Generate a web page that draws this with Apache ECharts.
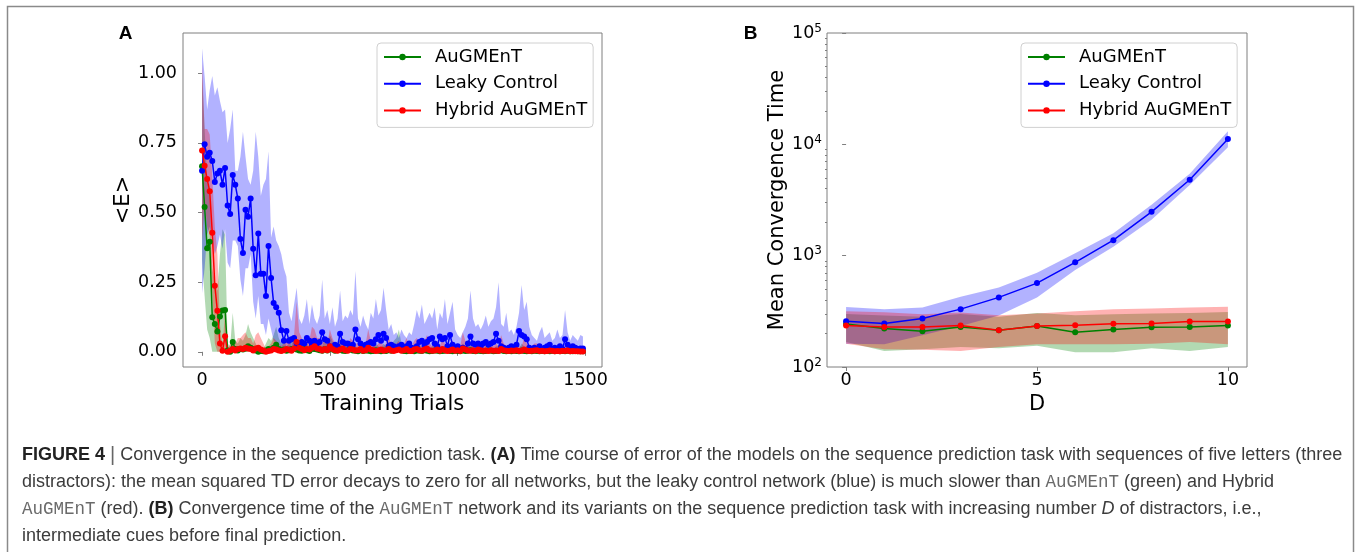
<!DOCTYPE html>
<html style="height: 100%">
<head>
    <meta charset="utf-8">
    <title>Figure 4</title>
    <script src="https://cdn.jsdelivr.net/npm/echarts@6/dist/echarts.min.js"></script>
</head>
<body style="height: 100%; margin: 0; background: #fff">
<div id="main" style="width: 1357px; height: 552px"></div>
<script type="text/javascript">

    // ---- panel A : error over training trials ----
    var trials = [
        0, 10, 20, 30, 40, 50, 60, 70, 80, 90, 100, 110, 120, 130, 140, 150, 160, 170, 180, 190,
        200, 210, 220, 230, 240, 250, 260, 270, 280, 290, 300, 310, 320, 330, 340, 350, 360, 370, 380, 390,
        400, 410, 420, 430, 440, 450, 460, 470, 480, 490, 500, 510, 520, 530, 540, 550, 560, 570, 580, 590,
        600, 610, 620, 630, 640, 650, 660, 670, 680, 690, 700, 710, 720, 730, 740, 750, 760, 770, 780, 790,
        800, 810, 820, 830, 840, 850, 860, 870, 880, 890, 900, 910, 920, 930, 940, 950, 960, 970, 980, 990,
        1000, 1010, 1020, 1030, 1040, 1050, 1060, 1070, 1080, 1090, 1100, 1110, 1120, 1130, 1140, 1150, 1160, 1170, 1180, 1190,
        1200, 1210, 1220, 1230, 1240, 1250, 1260, 1270, 1280, 1290, 1300, 1310, 1320, 1330, 1340, 1350, 1360, 1370, 1380, 1390,
        1400, 1410, 1420, 1430, 1440, 1450, 1460, 1470, 1480, 1490
    ];

    var leakyErr = [
        0.65, 0.745, 0.70, 0.715, 0.685, 0.61, 0.64, 0.65, 0.60, 0.66,
        0.525, 0.495, 0.635, 0.60, 0.55, 0.405, 0.355, 0.51, 0.485, 0.55,
        0.37, 0.275, 0.425, 0.28, 0.28, 0.20, 0.38, 0.265, 0.175, 0.16,
        0.14, 0.077, 0.04, 0.075, 0.04, 0.045, 0.05, 0.03, 0.02, 0.035,
        0.03, 0.05, 0.04, 0.025, 0.04, 0.03, 0.035, 0.07, 0.045, 0.04,
        0.02, 0.015, 0.025, 0.02, 0.065, 0.035, 0.03, 0.03, 0.02, 0.025,
        0.08, 0.045, 0.03, 0.02, 0.025, 0.03, 0.035, 0.03, 0.045, 0.06,
        0.04, 0.065, 0.05, 0.02, 0.025, 0.02, 0.015, 0.02, 0.025, 0.01,
        0.02, 0.03, 0.015, 0.01, 0.02, 0.035, 0.04, 0.025, 0.035, 0.045,
        0.05, 0.03, 0.02, 0.055, 0.045, 0.05, 0.02, 0.06, 0.025, 0.015,
        0.02, 0.01, 0.015, 0.01, 0.03, 0.055, 0.03, 0.025, 0.03, 0.02,
        0.03, 0.035, 0.025, 0.03, 0.035, 0.065, 0.04, 0.02, 0.015, 0.01,
        0.015, 0.02, 0.015, 0.025, 0.075, 0.06, 0.055, 0.045, 0.015, 0.01,
        0.015, 0.01, 0.02, 0.01, 0.015, 0.02, 0.025, 0.01, 0.015, 0.01,
        0.02, 0.01, 0.045, 0.025, 0.01, 0.02, 0.015, 0.01, 0.012, 0.012
    ];
    var leakyHi = [
        1.09, 0.99, 0.87, 0.94, 0.99, 0.92, 0.95, 0.90, 0.86, 0.87,
        0.75, 0.80, 0.87, 0.65, 0.65, 0.70, 0.79, 0.70, 0.62, 0.60,
        0.65, 0.79, 0.70, 0.56, 0.60, 0.62, 0.72, 0.41, 0.45, 0.40,
        0.38, 0.35, 0.30, 0.27, 0.14, 0.11, 0.17, 0.23, 0.12, 0.10,
        0.13, 0.19, 0.10, 0.17, 0.12, 0.10, 0.13, 0.26, 0.12, 0.15,
        0.10, 0.16, 0.09, 0.12, 0.22, 0.11, 0.13, 0.12, 0.15, 0.13,
        0.29, 0.12, 0.09, 0.13, 0.10, 0.08, 0.14, 0.12, 0.19, 0.13,
        0.15, 0.23, 0.15, 0.08, 0.10, 0.06, 0.07, 0.05, 0.08, 0.06,
        0.05, 0.07, 0.06, 0.10, 0.15, 0.12, 0.17, 0.10, 0.12, 0.14,
        0.12, 0.16, 0.08, 0.14, 0.12, 0.19, 0.10, 0.14, 0.18, 0.08,
        0.06, 0.05, 0.07, 0.09, 0.12, 0.22, 0.12, 0.09, 0.10, 0.08,
        0.10, 0.13, 0.09, 0.11, 0.12, 0.16, 0.25, 0.10, 0.09, 0.14,
        0.07, 0.08, 0.06, 0.09, 0.14, 0.24, 0.15, 0.18, 0.09, 0.06,
        0.05, 0.04, 0.07, 0.09, 0.05, 0.06, 0.07, 0.04, 0.05, 0.08,
        0.05, 0.06, 0.15, 0.07, 0.04, 0.06, 0.05, 0.04, 0.06, 0.055
    ];
    var leakyLo = [
        0.21, 0.30, 0.42, 0.45, 0.40, 0.35, 0.38, 0.42, 0.37, 0.44,
        0.32, 0.30, 0.40, 0.40, 0.38, 0.26, 0.20, 0.30, 0.30, 0.35,
        0.18, 0.12, 0.20, 0.10, 0.10, 0.06, 0.12, 0.08, 0.04, 0.03,
        0.03, 0, 0, 0, 0, 0, 0, 0, 0, 0,
        0, 0, 0, 0, 0, 0, 0, 0, 0, 0,
        0, 0, 0, 0, 0, 0, 0, 0, 0, 0,
        0, 0, 0, 0, 0, 0, 0, 0, 0, 0,
        0, 0, 0, 0, 0, 0, 0, 0, 0, 0,
        0, 0, 0, 0, 0, 0, 0, 0, 0, 0,
        0, 0, 0, 0, 0, 0, 0, 0, 0, 0,
        0, 0, 0, 0, 0, 0, 0, 0, 0, 0,
        0, 0, 0, 0, 0, 0, 0, 0, 0, 0,
        0, 0, 0, 0, 0, 0, 0, 0, 0, 0,
        0, 0, 0, 0, 0, 0, 0, 0, 0, 0,
        0, 0, 0, 0, 0, 0, 0, 0, 0, 0
    ];

    var augErr = [
        0.666, 0.52, 0.372, 0.395, 0.124, 0.10, 0.073, 0.127, 0.148, 0.15,
        0.005, 0.0, 0.035, 0.01, 0.005, 0.01, 0.008, 0.012, 0.02, 0.015,
        0.01, 0.005, 0.0, 0.003, 0.002, 0.005, 0.01, 0.008, 0.015, 0.025,
        0.01, 0.005, 0.008, 0.004, 0.006, 0.01, 0.012, 0.008, 0.005, 0.004,
        0.01, 0.006, 0.003, 0.012, 0.01, 0.008, 0.006, 0.004, 0.01, 0.005,
        0.012, 0.008, 0.004, 0.006, 0.01, 0.004, 0.003, 0.006, 0.008, 0.005,
        0.004, 0.002, 0.006, 0.003, 0.005, 0.004, 0.002, 0.003, 0.006, 0.004,
        0.002, 0.005, 0.003, 0.006, 0.004, 0.008, 0.01, 0.015, 0.006, 0.003,
        0.002, 0.004, 0.003, 0.002, 0.005, 0.004, 0.003, 0.006, 0.004, 0.002,
        0.003, 0.005, 0.004, 0.002, 0.003, 0.004, 0.006, 0.003, 0.002, 0.004,
        0.003, 0.002, 0.005, 0.003, 0.004, 0.006, 0.003, 0.002, 0.004, 0.003,
        0.002, 0.003, 0.005, 0.004, 0.002, 0.003, 0.004, 0.006, 0.003, 0.002,
        0.003, 0.002, 0.004, 0.003, 0.002, 0.005, 0.003, 0.002, 0.003, 0.002,
        0.004, 0.003, 0.002, 0.003, 0.002, 0.003, 0.002, 0.004, 0.002, 0.003,
        0.002, 0.003, 0.002, 0.004, 0.002, 0.002, 0.003, 0.002, 0.002, 0.002
    ];
    var augHi = [
        1.0, 0.80, 0.62, 0.55, 0.30, 0.25, 0.22, 0.35, 0.44, 0.42,
        0.03, 0.02, 0.14, 0.04, 0.03, 0.05, 0.04, 0.06, 0.10, 0.07,
        0.05, 0.03, 0.01, 0.02, 0.01, 0.03, 0.05, 0.04, 0.06, 0.09,
        0.05, 0.03, 0.04, 0.02, 0.03, 0.05, 0.06, 0.04, 0.03, 0.02,
        0.05, 0.03, 0.02, 0.05, 0.05, 0.04, 0.03, 0.02, 0.05, 0.03,
        0.06, 0.04, 0.02, 0.03, 0.05, 0.02, 0.02, 0.03, 0.04, 0.03,
        0.02, 0.01, 0.03, 0.02, 0.03, 0.02, 0.01, 0.02, 0.03, 0.02,
        0.01, 0.03, 0.02, 0.03, 0.02, 0.04, 0.05, 0.08, 0.03, 0.02,
        0.01, 0.02, 0.02, 0.01, 0.03, 0.02, 0.02, 0.03, 0.02, 0.01,
        0.02, 0.03, 0.02, 0.01, 0.02, 0.02, 0.03, 0.02, 0.01, 0.02,
        0.02, 0.01, 0.03, 0.02, 0.02, 0.03, 0.02, 0.01, 0.02, 0.02,
        0.01, 0.02, 0.03, 0.02, 0.01, 0.02, 0.02, 0.03, 0.02, 0.01,
        0.02, 0.01, 0.02, 0.02, 0.01, 0.03, 0.02, 0.01, 0.02, 0.01,
        0.02, 0.02, 0.01, 0.02, 0.01, 0.02, 0.01, 0.02, 0.01, 0.02,
        0.01, 0.02, 0.01, 0.02, 0.01, 0.01, 0.02, 0.01, 0.01, 0.01
    ];
    var augLo = [
        0.33, 0.20, 0.08, 0.05, 0, 0, 0, 0, 0, 0,
        0, 0, 0, 0, 0, 0, 0, 0, 0, 0,
        0, 0, 0, 0, 0, 0, 0, 0, 0, 0,
        0, 0, 0, 0, 0, 0, 0, 0, 0, 0,
        0, 0, 0, 0, 0, 0, 0, 0, 0, 0,
        0, 0, 0, 0, 0, 0, 0, 0, 0, 0,
        0, 0, 0, 0, 0, 0, 0, 0, 0, 0,
        0, 0, 0, 0, 0, 0, 0, 0, 0, 0,
        0, 0, 0, 0, 0, 0, 0, 0, 0, 0,
        0, 0, 0, 0, 0, 0, 0, 0, 0, 0,
        0, 0, 0, 0, 0, 0, 0, 0, 0, 0,
        0, 0, 0, 0, 0, 0, 0, 0, 0, 0,
        0, 0, 0, 0, 0, 0, 0, 0, 0, 0,
        0, 0, 0, 0, 0, 0, 0, 0, 0, 0,
        0, 0, 0, 0, 0, 0, 0, 0, 0, 0
    ];

    var hybErr = [
        0.723, 0.668, 0.62, 0.576, 0.427, 0.237, 0.147, 0.03, 0.004, 0.056,
        0.0, 0.005, 0.01, 0.005, 0.01, 0.012, 0.01, 0.015, 0.012, 0.01,
        0.005, 0.012, 0.015, 0.008, 0.005, 0.0, 0.003, 0.005, 0.01, 0.008,
        0.005, 0.003, 0.006, 0.01, 0.008, 0.004, 0.012, 0.035, 0.015, 0.01,
        0.006, 0.01, 0.008, 0.015, 0.02, 0.012, 0.01, 0.005, 0.01, 0.006,
        0.02, 0.01, 0.006, 0.004, 0.008, 0.012, 0.006, 0.004, 0.01, 0.008,
        0.005, 0.006, 0.01, 0.004, 0.006, 0.015, 0.008, 0.006, 0.003, 0.005,
        0.008, 0.004, 0.006, 0.01, 0.005, 0.003, 0.006, 0.008, 0.004, 0.006,
        0.01, 0.004, 0.003, 0.008, 0.01, 0.006, 0.004, 0.008, 0.012, 0.006,
        0.004, 0.005, 0.008, 0.004, 0.01, 0.006, 0.003, 0.005, 0.008, 0.004,
        0.006, 0.003, 0.012, 0.008, 0.005, 0.004, 0.006, 0.003, 0.008, 0.006,
        0.004, 0.005, 0.003, 0.006, 0.004, 0.005, 0.003, 0.01, 0.006, 0.004,
        0.003, 0.005, 0.004, 0.006, 0.003, 0.004, 0.008, 0.005, 0.003, 0.004,
        0.005, 0.006, 0.003, 0.004, 0.002, 0.003, 0.005, 0.004, 0.002, 0.003,
        0.002, 0.004, 0.003, 0.005, 0.002, 0.003, 0.002, 0.002, 0.001, 0.001
    ];
    var hybHi = [
        1.04, 0.80, 0.80, 0.78, 0.63, 0.45, 0.35, 0.10, 0.02, 0.14,
        0.01, 0.03, 0.04, 0.03, 0.05, 0.05, 0.06, 0.07, 0.05, 0.05,
        0.03, 0.06, 0.07, 0.05, 0.03, 0.01, 0.02, 0.03, 0.05, 0.04,
        0.03, 0.02, 0.03, 0.05, 0.04, 0.02, 0.06, 0.18, 0.07, 0.05,
        0.03, 0.05, 0.04, 0.09, 0.08, 0.05, 0.05, 0.03, 0.05, 0.03,
        0.08, 0.05, 0.03, 0.02, 0.04, 0.05, 0.03, 0.02, 0.05, 0.04,
        0.03, 0.03, 0.05, 0.02, 0.03, 0.08, 0.04, 0.03, 0.02, 0.03,
        0.04, 0.02, 0.03, 0.05, 0.03, 0.02, 0.03, 0.04, 0.02, 0.03,
        0.05, 0.02, 0.02, 0.04, 0.05, 0.03, 0.02, 0.04, 0.06, 0.03,
        0.02, 0.03, 0.04, 0.02, 0.05, 0.03, 0.02, 0.03, 0.04, 0.02,
        0.03, 0.02, 0.07, 0.04, 0.03, 0.02, 0.03, 0.02, 0.04, 0.03,
        0.02, 0.03, 0.02, 0.03, 0.02, 0.03, 0.02, 0.06, 0.03, 0.02,
        0.02, 0.03, 0.02, 0.03, 0.02, 0.02, 0.05, 0.03, 0.02, 0.02,
        0.03, 0.03, 0.02, 0.02, 0.01, 0.02, 0.03, 0.02, 0.01, 0.02,
        0.01, 0.02, 0.02, 0.03, 0.01, 0.02, 0.01, 0.01, 0.005, 0.005
    ];
    var hybLo = [
        0.40, 0.54, 0.45, 0.42, 0.22, 0.03, 0, 0, 0, 0,
        0, 0, 0, 0, 0, 0, 0, 0, 0, 0,
        0, 0, 0, 0, 0, 0, 0, 0, 0, 0,
        0, 0, 0, 0, 0, 0, 0, 0, 0, 0,
        0, 0, 0, 0, 0, 0, 0, 0, 0, 0,
        0, 0, 0, 0, 0, 0, 0, 0, 0, 0,
        0, 0, 0, 0, 0, 0, 0, 0, 0, 0,
        0, 0, 0, 0, 0, 0, 0, 0, 0, 0,
        0, 0, 0, 0, 0, 0, 0, 0, 0, 0,
        0, 0, 0, 0, 0, 0, 0, 0, 0, 0,
        0, 0, 0, 0, 0, 0, 0, 0, 0, 0,
        0, 0, 0, 0, 0, 0, 0, 0, 0, 0,
        0, 0, 0, 0, 0, 0, 0, 0, 0, 0,
        0, 0, 0, 0, 0, 0, 0, 0, 0, 0,
        0, 0, 0, 0, 0, 0, 0, 0, 0, 0
    ];

    var errTicks = [0, 0.25, 0.5, 0.75, 1.0];
    var trialTicks = [0, 500, 1000, 1500];

    // ---- panel B : convergence time vs distractors ----
    var distractors = [0, 1, 2, 3, 4, 5, 6, 7, 8, 9, 10];
    var augTime   = [243, 222, 209, 229, 214, 233, 205, 217, 228, 229, 236];
    var augTimeHi = [300, 290, 282, 300, 283, 305, 292, 298, 302, 305, 312];
    var augTimeLo = [168, 139, 144, 151, 147, 155, 136, 136, 147, 139, 151];
    var leakyTime   = [258, 246, 273, 331, 422, 567, 871, 1377, 2476, 4808, 11190];
    var leakyTimeHi = [345, 331, 343, 427, 519, 703, 1050, 1590, 2863, 5445, 13100];
    var leakyTimeLo = [162, 160, 193, 233, 290, 420, 742, 1204, 2100, 4306, 9400];
    var hybTime   = [236, 229, 229, 236, 214, 233, 237, 244, 246, 256, 256];
    var hybTimeHi = [316, 310, 298, 309, 292, 302, 317, 331, 336, 343, 347];
    var hybTimeLo = [162, 144, 143, 139, 151, 160, 160, 160, 162, 168, 160];
    var dTicks = [0, 5, 10];
    var minorTimeTicks = [200, 300, 400, 500, 600, 700, 800, 900,
        2000, 3000, 4000, 5000, 6000, 7000, 8000, 9000,
        20000, 30000, 40000, 50000, 60000, 70000, 80000, 90000];

    var names = ['AuGMEnT', 'Leaky Control', 'Hybrid AuGMEnT'];
    var colors = ['#008000', '#0000ff', '#ff0000'];
    var bands = ['rgba(0,128,0,0.3)', 'rgba(0,0,255,0.3)', 'rgba(255,0,0,0.3)'];

    var FONT = 'DejaVu Sans';
    var spine = '#7f7f7f';

    function pairs(xs, ys) {
        return xs.map(function (x, i) { return [x, ys[i]]; });
    }

    function lineSeries(k, xs, ys, gi) {
        return {
            type: 'line', name: names[k], xAxisIndex: gi, yAxisIndex: gi,
            data: pairs(xs, ys),
            symbol: 'circle', symbolSize: 6, showAllSymbol: true,
            lineStyle: {width: 1.5, color: colors[k]},
            itemStyle: {color: colors[k]},
            z: 3, silent: true
        };
    }

    // shaded spread drawn as one polygon through the axes
    function bandSeries(k, xs, lo, hi, gi) {
        return {
            type: 'custom', name: names[k] + ' spread', xAxisIndex: gi, yAxisIndex: gi,
            data: xs.map(function (x, i) { return [x, lo[i], hi[i]]; }),
            encode: {x: 0, y: [1, 2]},
            z: 1, silent: true,
            renderItem: function (params, api) {
                if (params.dataIndex !== 0) return null;
                var top = [], bottom = [];
                for (var i = 0; i < xs.length; i++) {
                    top.push(api.coord([xs[i], hi[i]]));
                    bottom.unshift(api.coord([xs[i], lo[i]]));
                }
                return {
                    type: 'polygon',
                    shape: {points: top.concat(bottom)},
                    style: {fill: bands[k], stroke: null}
                };
            }
        };
    }

    function legendAt(left) {
        return {
            data: names, orient: 'vertical', left: left, top: 43,
            backgroundColor: 'rgba(255,255,255,0.8)',
            borderColor: '#d0d0d0', borderWidth: 1, borderRadius: 4,
            padding: [5, 6, 8, 6],
            itemWidth: 37, itemHeight: 8, itemGap: 8.7,
            selectedMode: false,
            textStyle: {fontFamily: FONT, fontSize: 18, color: '#000', lineHeight: 18, padding: [0, 0, 0, 9]}
        };
    }

    var tickLabel = {fontFamily: FONT, fontSize: 17.5, color: '#000'};

    var myChart = echarts.init(document.getElementById('main'));

    var option = {
        animation: false,
        backgroundColor: '#fff',
        textStyle: {fontFamily: FONT},
        grid: [
            {left: 183, top: 33, width: 419, height: 334, show: true, borderColor: spine, borderWidth: 1, backgroundColor: 'transparent'},
            {left: 827, top: 33, width: 420, height: 334, show: true, borderColor: spine, borderWidth: 1, backgroundColor: 'transparent'}
        ],
        legend: [legendAt(377), legendAt(1021)],
        xAxis: [
            {
                type: 'value', gridIndex: 0, min: -74.5, max: 1564.5,
                name: 'Training Trials', nameLocation: 'middle', nameGap: 12,
                nameTextStyle: {fontFamily: FONT, fontSize: 21, color: '#000'},
                axisLine: {show: false}, splitLine: {show: false},
                axisTick: {show: true, length: 4, lineStyle: {color: spine}, customValues: trialTicks},
                axisLabel: Object.assign({
                    margin: 4, customValues: trialTicks,
                    formatter: function (v) { return String(v); }
                }, tickLabel)
            },
            {
                type: 'value', gridIndex: 1, min: -0.5, max: 10.5,
                name: 'D', nameLocation: 'middle', nameGap: 12,
                nameTextStyle: {fontFamily: FONT, fontSize: 21, color: '#000'},
                axisLine: {show: false}, splitLine: {show: false},
                axisTick: {show: true, length: 4, lineStyle: {color: spine}, customValues: dTicks},
                axisLabel: Object.assign({
                    margin: 4, customValues: dTicks,
                    formatter: function (v) { return String(v); }
                }, tickLabel)
            }
        ],
        yAxis: [
            {
                type: 'value', gridIndex: 0, min: -0.0545, max: 1.1445,
                name: '<E>', nameLocation: 'middle', nameGap: 42,
                nameTextStyle: {fontFamily: FONT, fontSize: 21, color: '#000'},
                axisLine: {show: false}, splitLine: {show: false},
                axisTick: {show: true, length: 4, lineStyle: {color: spine}, customValues: errTicks},
                axisLabel: Object.assign({
                    margin: 6, customValues: errTicks,
                    formatter: function (v) { return v.toFixed(2); }
                }, tickLabel)
            },
            {
                type: 'log', logBase: 10, gridIndex: 1, min: 100, max: 100000, position: 'left',
                name: 'Mean Convergence Time', nameLocation: 'middle', nameGap: 36,
                nameTextStyle: {fontFamily: FONT, fontSize: 21, color: '#000'},
                axisLine: {show: false}, splitLine: {show: false},
                axisTick: {show: true, length: 4, lineStyle: {color: spine}},
                axisLabel: Object.assign({
                    margin: 5,
                    formatter: function (v) { return '10{sup|' + Math.round(Math.log10(v)) + '}'; },
                    rich: {sup: {fontFamily: FONT, fontSize: 12, color: '#000', padding: [0, 0, 9, 0]}}
                }, tickLabel)
            },
            {
                // minor ticks of the log axis
                type: 'log', logBase: 10, gridIndex: 1, min: 100, max: 100000, position: 'left',
                axisLine: {show: false}, splitLine: {show: false},
                axisTick: {show: true, length: 2, lineStyle: {color: spine}, customValues: minorTimeTicks},
                axisLabel: {show: false}
            }
        ],
        graphic: [
            {type: 'rect', silent: true, shape: {x: 7.5, y: 6.5, width: 1346, height: 620},
                style: {fill: null, stroke: '#8a8a8a', lineWidth: 1.5}},
            {type: 'text', silent: true, style: {text: 'A', x: 125.5, y: 34, align: 'center', verticalAlign: 'middle',
                fontFamily: 'Liberation Sans', fontWeight: 'bold', fontSize: 19, fill: '#000'}},
            {type: 'text', silent: true, style: {text: 'B', x: 750.5, y: 34, align: 'center', verticalAlign: 'middle',
                fontFamily: 'Liberation Sans', fontWeight: 'bold', fontSize: 19, fill: '#000'}}
        ],
        series: [
            bandSeries(0, trials, augLo, augHi, 0),
            bandSeries(1, trials, leakyLo, leakyHi, 0),
            bandSeries(2, trials, hybLo, hybHi, 0),
            lineSeries(0, trials, augErr, 0),
            lineSeries(1, trials, leakyErr, 0),
            lineSeries(2, trials, hybErr, 0),
            bandSeries(0, distractors, augTimeLo, augTimeHi, 1),
            bandSeries(1, distractors, leakyTimeLo, leakyTimeHi, 1),
            bandSeries(2, distractors, hybTimeLo, hybTimeHi, 1),
            lineSeries(0, distractors, augTime, 1),
            lineSeries(1, distractors, leakyTime, 1),
            lineSeries(2, distractors, hybTime, 1)
        ]
    };

    // caption below the panels
    var captionLines = [
        '{b|FIGURE 4} {bar||} Convergence in the sequence prediction task. {b|(A)} Time course of error of the models on the sequence prediction task with sequences of five letters (three',
        'distractors): the mean squared TD error decays to zero for all networks, but the leaky control network (blue) is much slower than {m|AuGMEnT} (green) and Hybrid',
        '{m|AuGMEnT} (red). {b|(B)} Convergence time of the {m|AuGMEnT} network and its variants on the sequence prediction task with increasing number {i|D} of distractors, i.e.,',
        'intermediate cues before final prediction.'
    ];
    var capFont = 'Liberation Sans';
    var capColor = '#3c3c3c';
    var capSize = 18;
    captionLines.forEach(function (line, i) {
        option.graphic.push({
            type: 'text', silent: true,
            style: {
                text: line, x: 22, y: 455 + i * 27, verticalAlign: 'middle',
                fontFamily: capFont, fontSize: capSize, fill: capColor,
                rich: {
                    b: {fontFamily: capFont, fontSize: capSize, fontWeight: 'bold', fill: '#222'},
                    bar: {fontFamily: capFont, fontSize: 20, fill: '#666'},
                    m: {fontFamily: 'Liberation Mono', fontSize: 17.5, fill: '#6a6a6a'},
                    i: {fontFamily: capFont, fontSize: capSize, fontStyle: 'italic', fill: capColor}
                }
            }
        });
    });

    myChart.setOption(option);
</script>
</body>
</html>
